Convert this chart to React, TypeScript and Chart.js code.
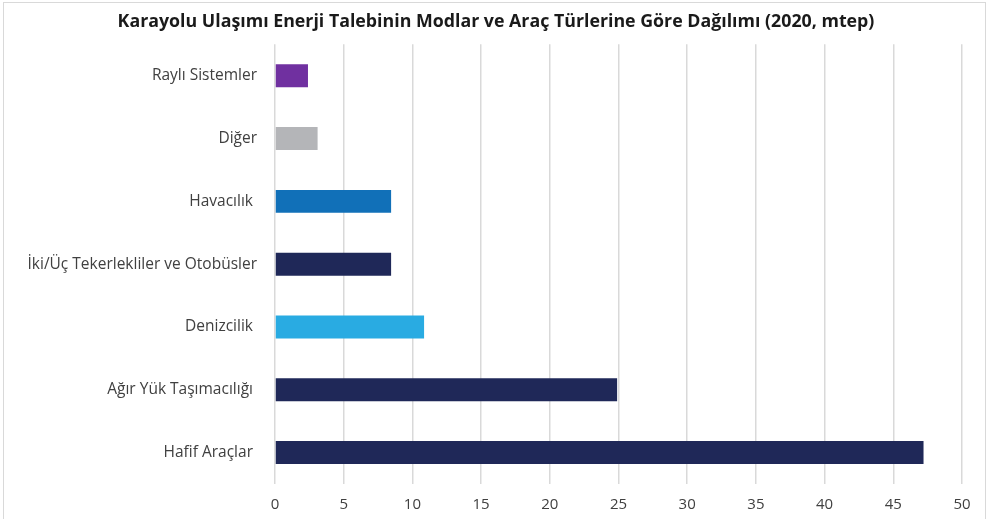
import React, { useEffect, useRef } from "react";
import { Chart, registerables } from "chart.js";

Chart.register(...registerables);

const categories = [
  "Raylı Sistemler",
  "Diğer",
  "Havacılık ",
  "İki/Üç Tekerlekliler ve Otobüsler",
  "Denizcilik ",
  "Ağır Yük Taşımacılığı ",
  "Hafif Araçlar ",
];
const values = [2.4, 3.1, 8.45, 8.45, 10.85, 24.9, 47.2];
const barColors = ["#7030A0", "#B4B5B8", "#1170B8", "#1F2858", "#29ABE2", "#1F2858", "#1F2858"];
const xTicks = [0, 5, 10, 15, 20, 25, 30, 35, 40, 45, 50];
const titleText = "Karayolu Ulaşımı Enerji Talebinin Modlar ve Araç Türlerine Göre Dağılımı (2020, mtep)";

export default function App() {
  const ref = useRef<HTMLCanvasElement | null>(null);
  useEffect(() => {
    document.body.style.margin = "0";
    if (!ref.current) return;
    const chart = new Chart(ref.current, {
      type: "bar",
      data: {
        labels: categories,
        datasets: [
          {
            data: values,
            backgroundColor: barColors,
            barPercentage: 0.366,
            categoryPercentage: 1,
          },
        ],
      },
      options: {
        indexAxis: "y",
        animation: false,
        responsive: false,
        maintainAspectRatio: false,
        layout: { padding: { left: 0, right: 0, top: 0, bottom: 0 } },
        plugins: {
          legend: { display: false },
          tooltip: { enabled: false },
          title: {
            display: true,
            text: titleText,
            color: "#1a1a1a",
            font: { family: "'Open Sans'", size: 17.8, weight: "bold", lineHeight: 1.2 },
            padding: { top: 11, bottom: 12 },
          },
        },
        scales: {
          x: {
            min: 0,
            max: 50,
            afterFit: (s: any) => {
              s.height = 35;
              s.paddingRight = 30;
            },
            afterBuildTicks: (s: any) => {
              s.ticks = xTicks.map((v) => ({ value: v }));
            },
            grid: { color: "#d9d9d9", lineWidth: 1.5, drawTicks: false },
            border: { display: false },
            ticks: {
              color: "#404040",
              padding: 12,
              font: { family: "'Open Sans'", size: 15 },
            },
          },
          y: {
            afterFit: (s: any) => {
              s.width = 275;
            },
            grid: { display: false },
            border: { display: false },
            ticks: {
              color: "#404040",
              padding: 10,
              font: { family: "'Open Sans'", size: 15.5 },
            },
          },
        },
      },
    });
    return () => chart.destroy();
  }, []);
  return (
    <div style={{ position: "absolute", left: 0, top: 0, width: 992, height: 519, overflow: "hidden", background: "#fff" }}>
      <div
        style={{
          position: "absolute",
          left: 3,
          top: 2,
          width: 983,
          height: 530,
          border: "1px solid #d9d9d9",
          boxSizing: "border-box",
        }}
      />
      <canvas ref={ref} width={992} height={519} style={{ position: "absolute", left: 0, top: 0 }} />
    </div>
  );
}
